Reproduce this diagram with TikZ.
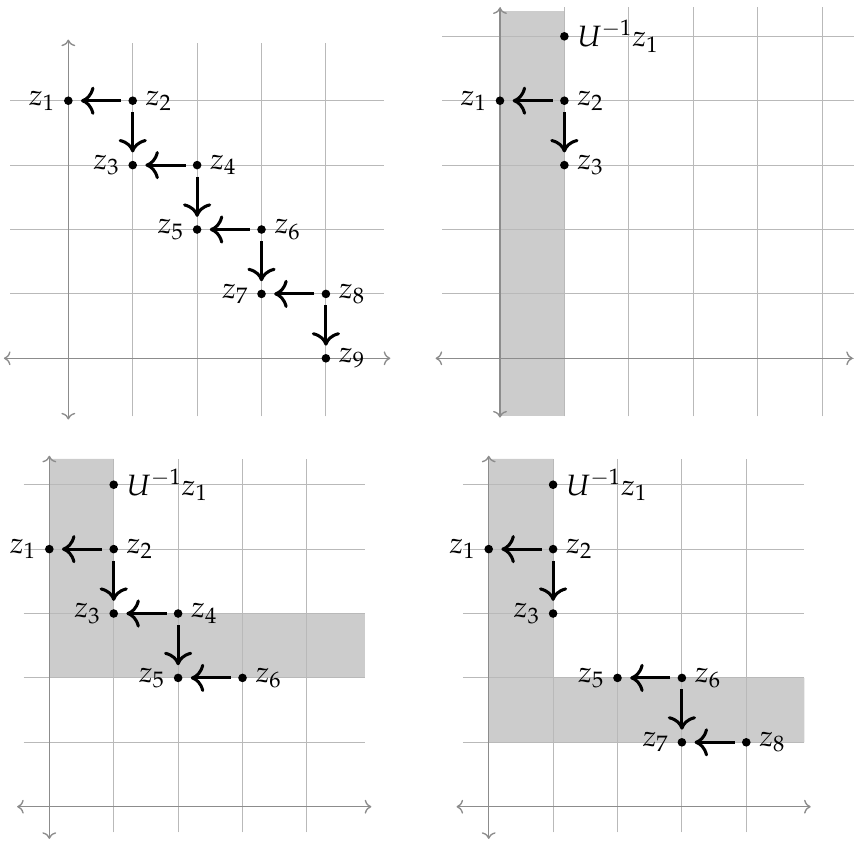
\documentclass[tikz,border=0pt]{standalone}
\usepackage{mathpazo}
\usetikzlibrary{arrows.meta}
\tikzset{
  pt/.style={circle,fill=black,inner sep=0pt,minimum size=3.8pt},
  move/.style={line width=1.35pt,-{Computer Modern Rightarrow[scale=1.3]},shorten <=3pt,shorten >=3.5pt},
  gridline/.style={gray!55,line width=0.4pt},
  axisline/.style={black!45,line width=0.6pt,<->},
  band/.style={fill=gray!40,draw=none}
}
\begin{document}
\begin{tikzpicture}[x=1cm,y=1cm,every label/.style={font=\fontsize{13}{15}\selectfont,inner sep=3.5pt}]
\useasboundingbox (-1.061,-7.495) rectangle (12.216,5.564);
\begin{scope}
\draw[gridline] (-0.9,-0.9) grid (4.9,4.9);
\draw[axisline] (-1,0) -- (5,0);
\draw[axisline] (0,-0.95) -- (0,4.95);
\node[pt,label=left:$z_1$] (a1) at (0,4) {};
\node[pt,label=right:$z_2$] (a2) at (1,4) {};
\node[pt,label=left:$z_3$] (a3) at (1,3) {};
\node[pt,label=right:$z_4$] (a4) at (2,3) {};
\node[pt,label=left:$z_5$] (a5) at (2,2) {};
\node[pt,label=right:$z_6$] (a6) at (3,2) {};
\node[pt,label=left:$z_7$] (a7) at (3,1) {};
\node[pt,label=right:$z_8$] (a8) at (4,1) {};
\node[pt,label=right:$z_9$] (a9) at (4,0) {};
\draw[move] (a2) -- (a1);
\draw[move] (a2) -- (a3);
\draw[move] (a4) -- (a3);
\draw[move] (a4) -- (a5);
\draw[move] (a6) -- (a5);
\draw[move] (a6) -- (a7);
\draw[move] (a8) -- (a7);
\draw[move] (a8) -- (a9);
\end{scope}
\begin{scope}[shift={(6.703,0)}]
\fill[band] (0,-0.9) rectangle (1,5.4);
\draw[gridline] (-0.9,-0.9) grid (5.5,5.45);
\draw[axisline] (-1,0) -- (5.48,0);
\draw[axisline] (0,-0.92) -- (0,5.45);
\node[pt,label=right:$U^{-1}z_1$] (b0) at (1,5) {};
\node[pt,label=left:$z_1$] (b1) at (0,4) {};
\node[pt,label=right:$z_2$] (b2) at (1,4) {};
\node[pt,label=right:$z_3$] (b3) at (1,3) {};
\draw[move] (b2) -- (b1);
\draw[move] (b2) -- (b3);
\end{scope}
\begin{scope}[shift={(-0.295,-6.963)}]
\fill[band] (0,2) -- (4.9,2) -- (4.9,3) -- (1,3) -- (1,5.4) -- (0,5.4) -- cycle;
\draw[gridline] (-0.4,-0.4) grid (4.9,5.4);
\draw[axisline] (-0.5,0) -- (5,0);
\draw[axisline] (0,-0.5) -- (0,5.45);
\node[pt,label=right:$U^{-1}z_1$] (c0) at (1,5) {};
\node[pt,label=left:$z_1$] (c1) at (0,4) {};
\node[pt,label=right:$z_2$] (c2) at (1,4) {};
\node[pt,label=left:$z_3$] (c3) at (1,3) {};
\node[pt,label=right:$z_4$] (c4) at (2,3) {};
\node[pt,label=left:$z_5$] (c5) at (2,2) {};
\node[pt,label=right:$z_6$] (c6) at (3,2) {};
\draw[move] (c2) -- (c1);
\draw[move] (c2) -- (c3);
\draw[move] (c4) -- (c3);
\draw[move] (c4) -- (c5);
\draw[move] (c6) -- (c5);
\end{scope}
\begin{scope}[shift={(6.528,-6.963)}]
\fill[band] (0,1) -- (4.9,1) -- (4.9,2) -- (1,2) -- (1,5.4) -- (0,5.4) -- cycle;
\draw[gridline] (-0.4,-0.4) grid (4.9,5.4);
\draw[axisline] (-0.5,0) -- (5,0);
\draw[axisline] (0,-0.5) -- (0,5.45);
\node[pt,label=right:$U^{-1}z_1$] (d0) at (1,5) {};
\node[pt,label=left:$z_1$] (d1) at (0,4) {};
\node[pt,label=right:$z_2$] (d2) at (1,4) {};
\node[pt,label=left:$z_3$] (d3) at (1,3) {};
\node[pt,label=left:$z_5$] (d5) at (2,2) {};
\node[pt,label=right:$z_6$] (d6) at (3,2) {};
\node[pt,label=left:$z_7$] (d7) at (3,1) {};
\node[pt,label=right:$z_8$] (d8) at (4,1) {};
\draw[move] (d2) -- (d1);
\draw[move] (d2) -- (d3);
\draw[move] (d6) -- (d5);
\draw[move] (d6) -- (d7);
\draw[move] (d8) -- (d7);
\end{scope}
\end{tikzpicture}
\end{document}
